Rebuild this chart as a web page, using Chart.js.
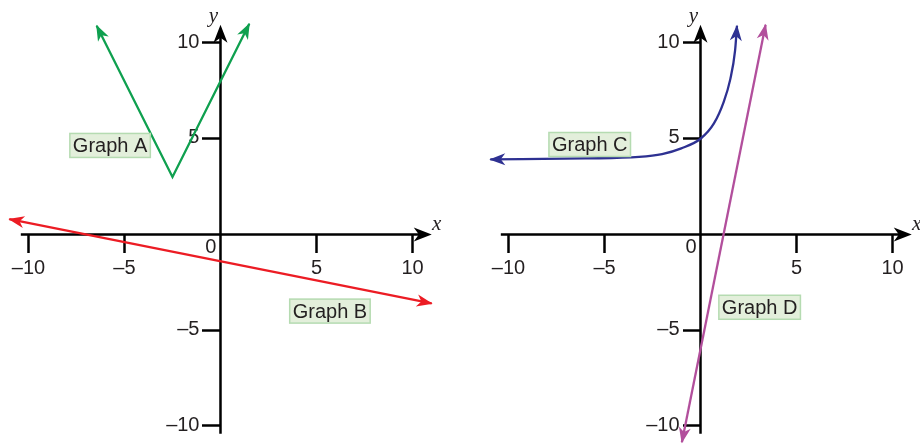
<!DOCTYPE html>
<html>
<head>
<meta charset="utf-8">
<script src="https://cdn.jsdelivr.net/npm/chart.js@4.4.0/dist/chart.umd.min.js"></script>
<style>
  html, body { margin: 0; padding: 0; background: #fff; }
</style>
</head>
<body>
<canvas id="graphs" width="920" height="444"></canvas>
<script>
// tick labels shown on both axes of both planes
const tickValues = [-10, -5, 5, 10];

// values
const graphA_x = [-6.45, -2.5, 1.5];
const graphA_y = [10.9, 3, 11];
const graphB_x = [-11, 11];
const graphB_y = [0.8, -3.6];
const graphC_x = [-10.95, -6, -3.2, -2, -1, 0, 0.7, 1.2, 1.55, 1.8, 1.9];
const graphC_y = [3.92, 3.97, 4.05, 4.2, 4.5, 5, 5.8, 6.9, 8.1, 9.6, 10.9];
const graphD_x = [-0.97, 3.39];
const graphD_y = [-10.85, 10.95];

const graphNames = ["Graph A", "Graph B", "Graph C", "Graph D"];

const FONT = "'Liberation Sans', Arial, Helvetica, sans-serif";
const SERIF = "'Liberation Serif', 'Times New Roman', serif";
const INK = "#231f20";

const pts = (xs, ys) => xs.map((x, i) => ({ x: x, y: ys[i] }));
const fmt = (v) => String(v).replace("-", "\u2013");

// centred axes shouldn't push the chart area in
function noPadding(s) {
  s.paddingTop = 0;
  s.paddingBottom = 0;
  s.paddingLeft = 0;
  s.paddingRight = 0;
}

function xScale(min, max) {
  return {
    type: "linear", axis: "x", min: min, max: max,
    position: { y1: 0 },
    border: { display: false },
    grid: { drawOnChartArea: false, drawTicks: true, tickLength: 19, tickWidth: 2.5, tickColor: "#000" },
    ticks: {
      padding: 3, maxRotation: 0, autoSkip: false, color: INK,
      font: { family: FONT, size: 20 },
      callback: fmt,
    },
    afterBuildTicks: (axis) => { axis.ticks = tickValues.map((v) => ({ value: v })); },
    afterFit: noPadding,
  };
}

function yScale(xId) {
  const pos = {};
  pos[xId] = 0;
  return {
    type: "linear", axis: "y", min: -10.94, max: 12.245,
    position: pos,
    border: { display: false },
    grid: { drawOnChartArea: false, drawTicks: true, tickLength: 18, tickWidth: 2.5, tickColor: "#000" },
    // labels are drawn by the plugin, left of the tick marks
    ticks: { display: false },
    afterBuildTicks: (axis) => { axis.ticks = tickValues.map((v) => ({ value: v })); },
    afterFit: noPadding,
  };
}

function arrowHead(ctx, tipX, tipY, fromX, fromY, len, half, color) {
  const ang = Math.atan2(tipY - fromY, tipX - fromX);
  ctx.save();
  ctx.translate(tipX, tipY);
  ctx.rotate(ang);
  ctx.fillStyle = color;
  ctx.beginPath();
  ctx.moveTo(1, 0);
  ctx.lineTo(-len, -half);
  ctx.lineTo(-len * 0.7, 0);
  ctx.lineTo(-len, half);
  ctx.closePath();
  ctx.fill();
  ctx.restore();
}

const planes = [["x1", "y1"], ["x2", "y2"]];

const axesPlugin = {
  id: "axesPlugin",
  beforeDatasetsDraw(chart) {
    const ctx = chart.ctx;
    planes.forEach(([xi, yi]) => {
      const xs = chart.scales[xi];
      const ys = chart.scales[yi];
      const ox = xs.getPixelForValue(0);
      const oy = ys.getPixelForValue(0);
      const xL = xs.getPixelForValue(-10.4);
      const xT = xs.getPixelForValue(10.95);
      const yB = ys.getPixelForValue(-10.4);
      const yT = ys.getPixelForValue(10.9);
      ctx.save();
      ctx.strokeStyle = "#000";
      ctx.lineWidth = 2.5;
      ctx.beginPath();
      ctx.moveTo(xL, oy);
      ctx.lineTo(xT - 10, oy);
      ctx.moveTo(ox, yB);
      ctx.lineTo(ox, yT + 10);
      ctx.stroke();
      arrowHead(ctx, xT, oy, ox, oy, 17, 7, "#000");
      arrowHead(ctx, ox, yT, ox, oy, 17, 7, "#000");

      ctx.fillStyle = INK;
      ctx.font = "20px " + FONT;
      ctx.textAlign = "right";
      ctx.textBaseline = "middle";
      ys.ticks.forEach((t) => {
        ctx.fillText(fmt(t.value), ox - 21, ys.getPixelForValue(t.value) - 1);
      });
      ctx.textBaseline = "alphabetic";
      ctx.fillText("0", ox - 4, oy + 18.5);

      ctx.font = "italic 21px " + SERIF;
      ctx.textAlign = "center";
      ctx.textBaseline = "middle";
      ctx.fillText("x", xT + 6, oy - 10);
      ctx.fillText("y", ox - 7, yT - 9);
      ctx.restore();
    });
  },
  afterDatasetsDraw(chart) {
    const ctx = chart.ctx;
    chart.data.datasets.forEach((ds, i) => {
      const pts = chart.getDatasetMeta(i).data;
      const n = pts.length;
      arrowHead(ctx, pts[0].x, pts[0].y, pts[1].x, pts[1].y, 15, 6, ds.borderColor);
      arrowHead(ctx, pts[n - 1].x, pts[n - 1].y, pts[n - 2].x, pts[n - 2].y, 15, 6, ds.borderColor);

      const xs = chart.scales[ds.xAxisID];
      const ys = chart.scales[ds.yAxisID];
      const cx = xs.getPixelForValue(ds.labelAt[0]);
      const cy = ys.getPixelForValue(ds.labelAt[1]);
      ctx.save();
      ctx.font = "20px " + FONT;
      const w = ctx.measureText(ds.label).width + 6;
      const h = 24;
      ctx.fillStyle = "#e3efdb";
      ctx.strokeStyle = "#b5dbb1";
      ctx.lineWidth = 1.5;
      ctx.fillRect(cx - w / 2, cy - h / 2, w, h);
      ctx.strokeRect(cx - w / 2, cy - h / 2, w, h);
      ctx.fillStyle = INK;
      ctx.textAlign = "center";
      ctx.textBaseline = "middle";
      ctx.fillText(ds.label, cx, cy + 1);
      ctx.restore();
    });
  },
};

function lineSet(name, data, color, xId, yId, labelAt, smooth) {
  return {
    label: name,
    data: data,
    borderColor: color,
    borderWidth: 2.3,
    pointRadius: 0,
    showLine: true,
    fill: false,
    clip: false,
    tension: 0,
    cubicInterpolationMode: smooth ? "monotone" : "default",
    xAxisID: xId,
    yAxisID: yId,
    labelAt: labelAt,
  };
}

new Chart(document.getElementById("graphs"), {
  type: "line",
  data: {
    datasets: [
      lineSet(graphNames[0], pts(graphA_x, graphA_y), "#0fa04f", "x1", "y1", [-5.75, 4.65], false),
      lineSet(graphNames[1], pts(graphB_x, graphB_y), "#ec1c24", "x1", "y1", [5.7, -4.0], false),
      lineSet(graphNames[2], pts(graphC_x, graphC_y), "#2e3192", "x2", "y2", [-5.77, 4.7], true),
      lineSet(graphNames[3], pts(graphD_x, graphD_y), "#b24f9c", "x2", "y2", [3.08, -3.8], false),
    ],
  },
  options: {
    responsive: false,
    animation: false,
    devicePixelRatio: 1,
    layout: { padding: 0, autoPadding: false },
    plugins: { legend: { display: false }, tooltip: { enabled: false } },
    events: [],
    scales: {
      x1: xScale(-11.484, 36.432),
      x2: xScale(-36.484, 11.432),
      y1: yScale("x1"),
      y2: yScale("x2"),
    },
  },
  plugins: [axesPlugin],
});
</script>
</body>
</html>
